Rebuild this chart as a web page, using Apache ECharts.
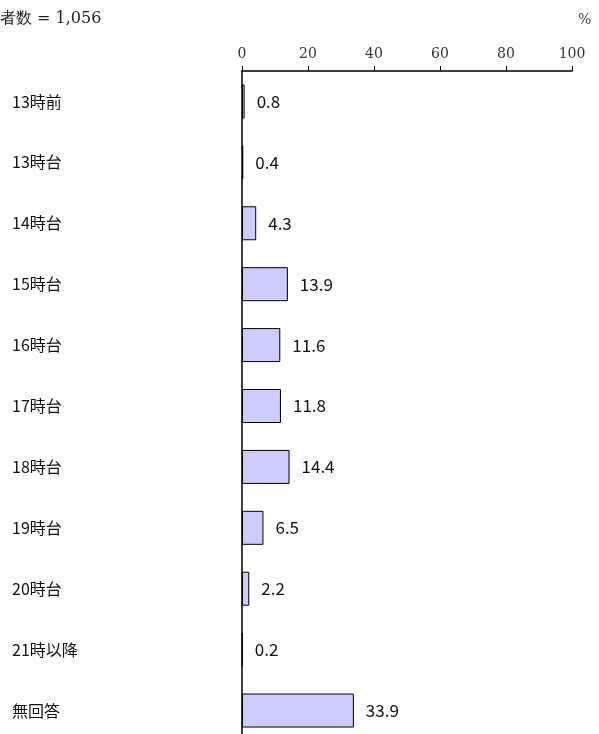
<!DOCTYPE html>
<html><head><meta charset="utf-8">
<script src="https://cdn.jsdelivr.net/npm/echarts@6/dist/echarts.min.js"></script>
<style>html,body{margin:0;padding:0;background:#fff;overflow:hidden}#c{width:599px;height:734px}</style>
</head><body><div id="c"></div>
<script>
const categories = ['13時前','13時台','14時台','15時台','16時台','17時台','18時台','19時台','20時台','21時以降','無回答'];
const values = [0.8,0.4,4.3,13.9,11.6,11.8,14.4,6.5,2.2,0.2,33.9];
const tickLabels = [0,20,40,60,80,100];
const titleText = '者数 = 1,056';
const unitText = '%';

const chart = echarts.init(document.getElementById('c'), null, {renderer:'canvas'});
chart.setOption({
  animation:false,
  graphic:[
    {type:'text', left:0, top:11, style:{text:titleText, font:'16px "DejaVu Serif","Liberation Serif",serif', fill:'#222'}},
    {type:'text', left:578, top:13, style:{text:unitText, font:'14px "DejaVu Serif","Liberation Serif",serif', fill:'#444'}}
  ],
  grid:{left:242, right:27, top:71, height:670, containLabel:false, outerBoundsMode:'none'},
  xAxis:{type:'value', position:'top', min:0, max:100, interval:20,
    axisLine:{show:true, lineStyle:{color:'#000', width:1.5}},
    axisTick:{show:true, inside:false, length:5, lineStyle:{color:'#000'}},
    splitLine:{show:false},
    axisLabel:{color:'#333', fontSize:14, fontFamily:'"DejaVu Serif","Liberation Serif",serif', margin:10,
      formatter:v => tickLabels.includes(v) ? String(v) : ''}
  },
  yAxis:{type:'category', data:categories, inverse:true,
    axisLine:{show:true, lineStyle:{color:'#000', width:1.5}},
    axisTick:{show:false},
    axisLabel:{align:'left', margin:230, fontSize:16, color:'#111', fontFamily:'"Noto Sans CJK JP",sans-serif'}
  },
  series:[{type:'bar', data:values, barWidth:34,
    itemStyle:{color:'#ccccff', borderColor:'#000', borderWidth:1},
    label:{show:true, position:'right', distance:12, fontSize:17, color:'#111', fontFamily:'"Noto Sans CJK JP",sans-serif',
      formatter:p => p.value.toFixed(1)}
  }]
});
</script></body></html>
